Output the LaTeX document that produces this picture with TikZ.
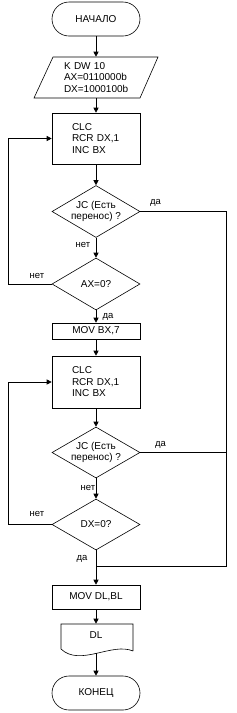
\documentclass[tikz,border=0pt]{standalone}
\usepackage{fontspec}
\setmainfont{Liberation Sans}
\usetikzlibrary{shapes.geometric,arrows.meta}

\begin{document}
\begin{tikzpicture}[x=1pt,y=-1pt,line width=0.6pt,
  font=\fontsize{10}{11.5}\selectfont,
  term/.style={draw,rectangle,rounded corners=17pt,minimum width=88pt,minimum height=34pt,inner sep=0pt},
  proc/.style={draw,rectangle,minimum width=88pt,inner xsep=20pt,inner ysep=0pt,text width=48pt,align=left},
  plain/.style={draw,rectangle,minimum width=88pt,inner sep=0pt},
  decide/.style={draw,diamond,aspect=1.7,minimum width=88pt,minimum height=52pt,inner sep=0pt,align=center},
  lbl/.style={font=\fontsize{9.5}{11}\selectfont},
  arr/.style={-{Triangle[length=5pt,width=5pt]}}]

\useasboundingbox (0,0) rectangle (236,713);

\node[term] (start) at (96,19) {НАЧАЛО};

% input data
\draw (34,98) -- (53,57) -- (158,57) -- (140,98) -- cycle;
\node[minimum width=88pt,minimum height=41pt,inner xsep=12pt,inner ysep=0pt,text width=64pt,align=left] (in) at (96,77.5) {K DW 10\\AX=0110000b\\DX=1000100b};

\node[proc,minimum height=51pt] (p1) at (96,138.5) {CLC\\RCR DX,1\\INC BX};
\node[decide] (d1) at (96,211.5) {JC (Есть\\перенос) ?};
\node[decide] (d2) at (96,284) {AX=0?};
\node[plain,minimum height=16pt] (m1) at (96,331) {MOV BX,7};
\node[proc,minimum height=52pt] (p2) at (96,382) {CLC\\RCR DX,1\\INC BX};
\node[decide,minimum height=51pt] (d3) at (96,452.5) {JC (Есть\\перенос) ?};
\node[decide,minimum height=51pt] (d4) at (96,524.5) {DX=0?};
\node[plain,minimum height=24pt] (m2) at (96,597) {MOV DL,BL};

% output document
\draw (133,651) -- (133,624) -- (61,624) -- (61,649) .. controls (80,667) and (112,642) .. (133,651);
\node[minimum width=72pt,minimum height=29pt,inner sep=0pt,text depth=7pt] (out) at (96,638.5) {DL};

\node[term] (end) at (96,693) {КОНЕЦ};

% main line
\foreach \a/\b in {start/in,in/p1,p1/d1,d1/d2,d2/m1,m1/p2,p2/d3,d3/d4,d4/m2,m2/out,out/end}{
  \draw[arr] (\a) -- (\b);
}

% loops back
\draw[arr] (d2.west) -- ++(-43,0) |- (p1.west);
\draw[arr] (d4.west) -- ++(-43,0) |- (p2.west);

% exits on carry
\coordinate (join) at (96,566);
\coordinate (rj) at (226,566);
\draw (d1.east) -| (rj) -- (join);
\draw (d3.east) -- (d3.east -| rj);

% branch labels
\node[lbl] (y1) at (155.5,203) {да};
\node[lbl] (n1) at (83,245) {нет};
\node[lbl] (n2) at (37,276) {нет};
\node[lbl] (y2) at (108,317) {да};
\node[lbl] (y3) at (160.5,445) {да};
\node[lbl] (n3) at (88,488) {нет};
\node[lbl] (n4) at (37,514) {нет};
\node[lbl] (y4) at (82,559) {да};

\end{tikzpicture}
\end{document}
